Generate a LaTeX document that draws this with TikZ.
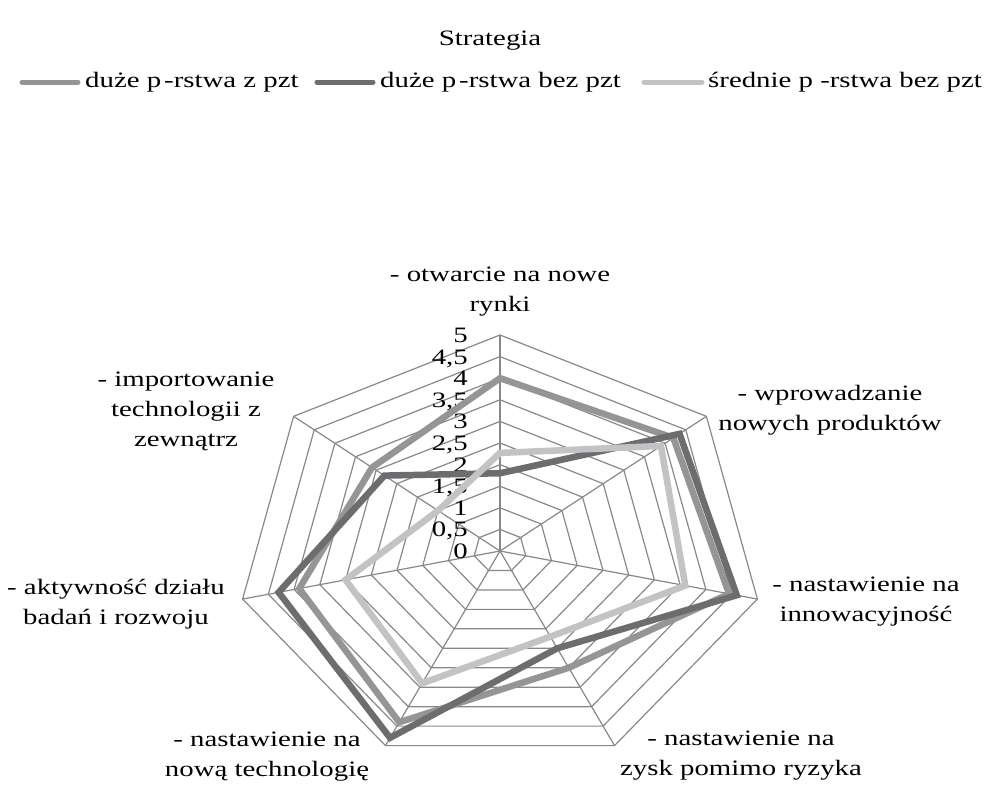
\documentclass[tikz,border=0pt]{standalone}
\usepackage{fontspec}
\setmainfont{Liberation Serif}[FakeStretch=1.31]
\usetikzlibrary{positioning}
\definecolor{seriesmid}{HTML}{959595}
\definecolor{seriesdark}{HTML}{6D6D70}
\definecolor{serieslight}{HTML}{C3C3C5}
\definecolor{webgray}{HTML}{888888}

\begin{document}
\begin{tikzpicture}[x=1pt,y=-1pt,
    lbl/.style={font=\fontsize{22}{30}\selectfont,inner sep=0pt,align=center},
    webline/.style={draw=webgray,line width=1.2pt},
    series/.style={line width=6.5pt,miter limit=4},
    legline/.style={line width=5pt,line cap=round}]
    \useasboundingbox (0,0) rectangle (989,785);

    % title and legend
    \node[lbl] (title) at (490,41) {Strategia};
    \coordinate (l1a) at (22,82); \coordinate (l1b) at (78,82);
    \coordinate (l2a) at (317,82); \coordinate (l2b) at (373,82);
    \coordinate (l3a) at (644,82); \coordinate (l3b) at (702,82);
    \draw[legline,seriesmid] (l1a) -- (l1b);
    \draw[legline,seriesdark] (l2a) -- (l2b);
    \draw[legline,serieslight] (l3a) -- (l3b);
    \node[lbl,right=7pt of l1b] (leg1) {duże p\hspace{3pt}-rstwa z pzt};
    \node[lbl,right=7pt of l2b] (leg2) {duże p\hspace{3pt}-rstwa bez pzt};
    \node[lbl,right=6pt of l3b] (leg3) {średnie p -rstwa bez pzt};

    \begin{scope}[shift={(500,551)},x=52.8pt,y=43.2pt]
      \node[inner sep=0pt] (ctr) at (0,0) {};
      % web
      \foreach \r in {0.5,1,...,5}{
        \draw[webline] (90:\r) -- (38.571:\r) -- (-12.857:\r) -- (-64.286:\r)
          -- (-115.714:\r) -- (-167.143:\r) -- (141.429:\r) -- cycle;
      }
      \foreach \a in {90,38.571,-12.857,-64.286,-115.714,-167.143,141.429}{
        \draw[webline] (ctr.center) -- (\a:5);
      }
      % scale
      \foreach \v/\t [count=\i] in {0/0,0.5/{0,5},1/1,1.5/{1,5},2/2,2.5/{2,5},3/3,3.5/{3,5},4/4,4.5/{4,5},5/5}{
        \node[lbl,anchor=base east,xshift=-32pt,yshift=-7.4pt] (tick\i) at (0,\v) {\t};
      }
      % data
      \draw[series,seriesmid] (90:4) -- (38.571:4.2) -- (-12.857:4.45) -- (-64.286:3)
        -- (-115.714:4.4) -- (-167.143:3.9) -- (141.429:3.1) -- cycle;
      \draw[series,seriesdark] (90:1.8) -- (38.571:4.35) -- (-12.857:4.6) -- (-64.286:2.5)
        -- (-115.714:4.8) -- (-167.143:4.3) -- (141.429:2.8) -- cycle;
      \draw[series,serieslight] (90:2.27) -- (38.571:3.9) -- (-12.857:3.6) -- (-64.286:2.2)
        -- (-115.714:3.4) -- (-167.143:3.0) -- (141.429:1.5) -- cycle;
    \end{scope}

    % axis labels
    \node[lbl] (rynki) at (500,292) {- otwarcie na nowe\\rynki};
    \node[lbl] (produkty) at (830,410) {- wprowadzanie\\nowych produktów};
    \node[lbl] (innowacje) at (866,602) {- nastawienie na\\innowacyjność};
    \node[lbl] (zysk) at (741,756) {- nastawienie na\\zysk pomimo ryzyka};
    \node[lbl] (technologia) at (267,757) {- nastawienie na\\nową technologię};
    \node[lbl] (badania) at (116,604) {- aktywność działu\\badań i rozwoju};
    \node[lbl] (import) at (186,411) {- importowanie\\technologii z\\zewnątrz};
\end{tikzpicture}
\end{document}
